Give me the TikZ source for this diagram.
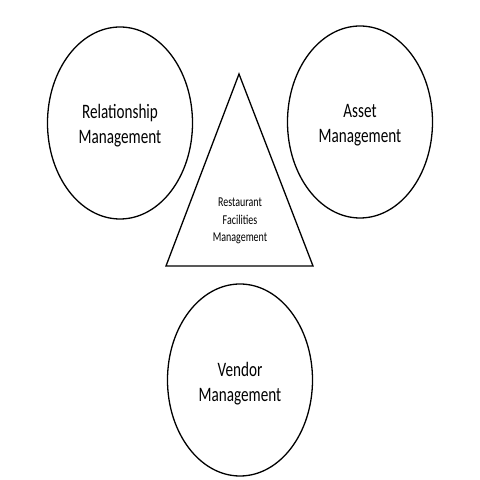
\documentclass[tikz,border=0pt]{standalone}
\usepackage{fontspec}
\setmainfont{Carlito}
\newfontfamily\sqfont[FakeStretch=0.74]{Carlito}
\usetikzlibrary{shapes.geometric}
\begin{document}
\begin{tikzpicture}[x=1pt,y=1pt,
  oval/.style={draw=black, line width=1.3pt, ellipse, minimum width=145pt, minimum height=192pt, inner sep=0pt},
  big/.style={align=center, inner sep=0pt, font=\sqfont\fontsize{20.5}{25}\selectfont},
  small/.style={align=center, font=\sqfont\fontsize{13.5}{17.5}\selectfont, inner sep=0pt}]
\useasboundingbox[fill=white] (0,0) rectangle (480,480);
\node[oval] (rel) at (120,357) {};
\node[oval] (asset) at (360,358) {};
\node[oval] (vendor) at (240,100) {};
\node[big] (reltext) at ([yshift=-3pt]rel.center) {Relationship\\Management};
\node[big] (assettext) at ([yshift=-3pt]asset.center) {Asset\\Management};
\node[big] (vendortext) at ([yshift=-4pt]vendor.center) {Vendor\\Management};
\coordinate (apex) at (239,406);
\coordinate (bl) at (166,214);
\coordinate (br) at (313,214);
\draw[line width=1.3pt, line join=miter] (apex) -- (br) -- (bl) -- cycle;
\node[small] (rfm) at (240,259) {Restaurant\\Facilities\\Management};
\end{tikzpicture}
\end{document}
